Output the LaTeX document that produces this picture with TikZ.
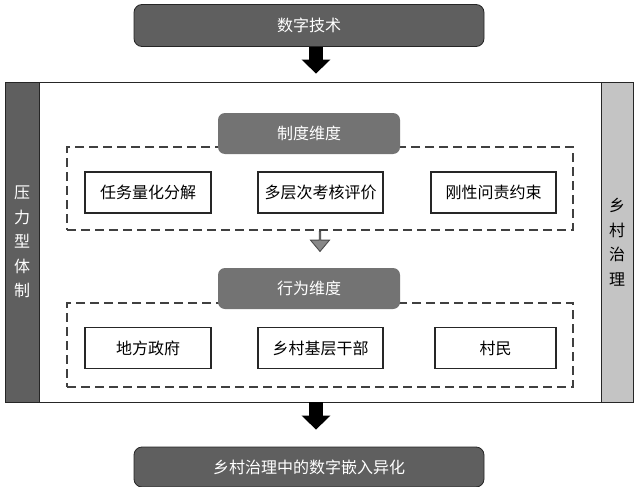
\documentclass[tikz,border=0pt]{standalone}
\usepackage{fontspec}
\setmainfont{Noto Sans CJK SC}
\usepackage{tikz}
\usetikzlibrary{arrows.meta,shapes.arrows}
\definecolor{boxdark}{HTML}{5F5F5F}
\definecolor{boxmid}{HTML}{737373}
\definecolor{barlight}{HTML}{C4C4C4}
\definecolor{arrowgray}{HTML}{888888}

\begin{document}
\begin{tikzpicture}[x=1pt,y=-1pt,
every node/.style={font=\fontsize{16}{24.5}\selectfont,inner sep=0pt},
endbox/.style={draw=black!85,line width=0.8pt,fill=boxdark,text=white,rounded corners=8pt,minimum width=350pt,minimum height=42pt},
dimbox/.style={fill=boxmid,text=white,rounded corners=7pt,minimum width=182pt,minimum height=41pt},
itembox/.style={draw=black!85,line width=1.1pt,fill=white,minimum height=41pt},
groupbox/.style={draw=black!75,line width=1.1pt,dash pattern=on 9pt off 5pt,minimum width=506pt},
sidebar/.style={draw=black!85,line width=0.8pt,minimum height=320pt,align=center},
bigarrow/.style={line width=14pt,-{Triangle[width=28pt,length=14pt]}}]
\useasboundingbox (0,0) rectangle (637,487);
\node[draw=black!85,line width=0.8pt,fill=white,minimum width=627pt,minimum height=320pt] (F) at (318.5,242) {};
\node[sidebar,fill=boxdark,text=white,minimum width=34pt] (P) at (22,242) {压\\力\\型\\体\\制};
\node[sidebar,fill=barlight,minimum width=32pt] (G) at (617,242) {乡\\村\\治\\理};
\node[endbox] (T) at (309,25.5) {数字技术};
\node[endbox,minimum height=40pt] (R) at (309,467) {乡村治理中的数字嵌入异化};
\node[groupbox,minimum height=83pt] (S1) at (320,188.5) {};
\node[groupbox,minimum height=84pt] (S2) at (320,345) {};
\node[dimbox] (D1) at (309,133.5) {制度维度};
\node[dimbox] (D2) at (309,288.5) {行为维度};
\node[itembox,minimum width=126pt] (A1) at (148,192.5) {任务量化分解};
\node[itembox,minimum width=125pt] (A2) at (320.5,192.5) {多层次考核评价};
\node[itembox,minimum width=125pt] (A3) at (493.5,192.5) {刚性问责约束};
\node[itembox,minimum width=126pt] (B1) at (148,348) {地方政府};
\node[itembox,minimum width=125pt] (B2) at (320.5,348) {乡村基层干部};
\node[itembox,minimum width=121pt] (B3) at (495.5,348) {村民};
\node[single arrow,draw=black!70,line width=0.9pt,fill=arrowgray,rotate=-90,minimum height=20pt,minimum width=19pt,single arrow head extend=5pt,single arrow tip angle=80] (M) at (320,241) {};
\draw[bigarrow,shorten >=8pt] ([xshift=7pt]T.south) -- ([xshift=-2.5pt]F.north);
\draw[bigarrow,shorten >=17pt] ([xshift=-2.5pt]F.south) -- ([xshift=7pt]R.north);
\end{tikzpicture}
\end{document}
